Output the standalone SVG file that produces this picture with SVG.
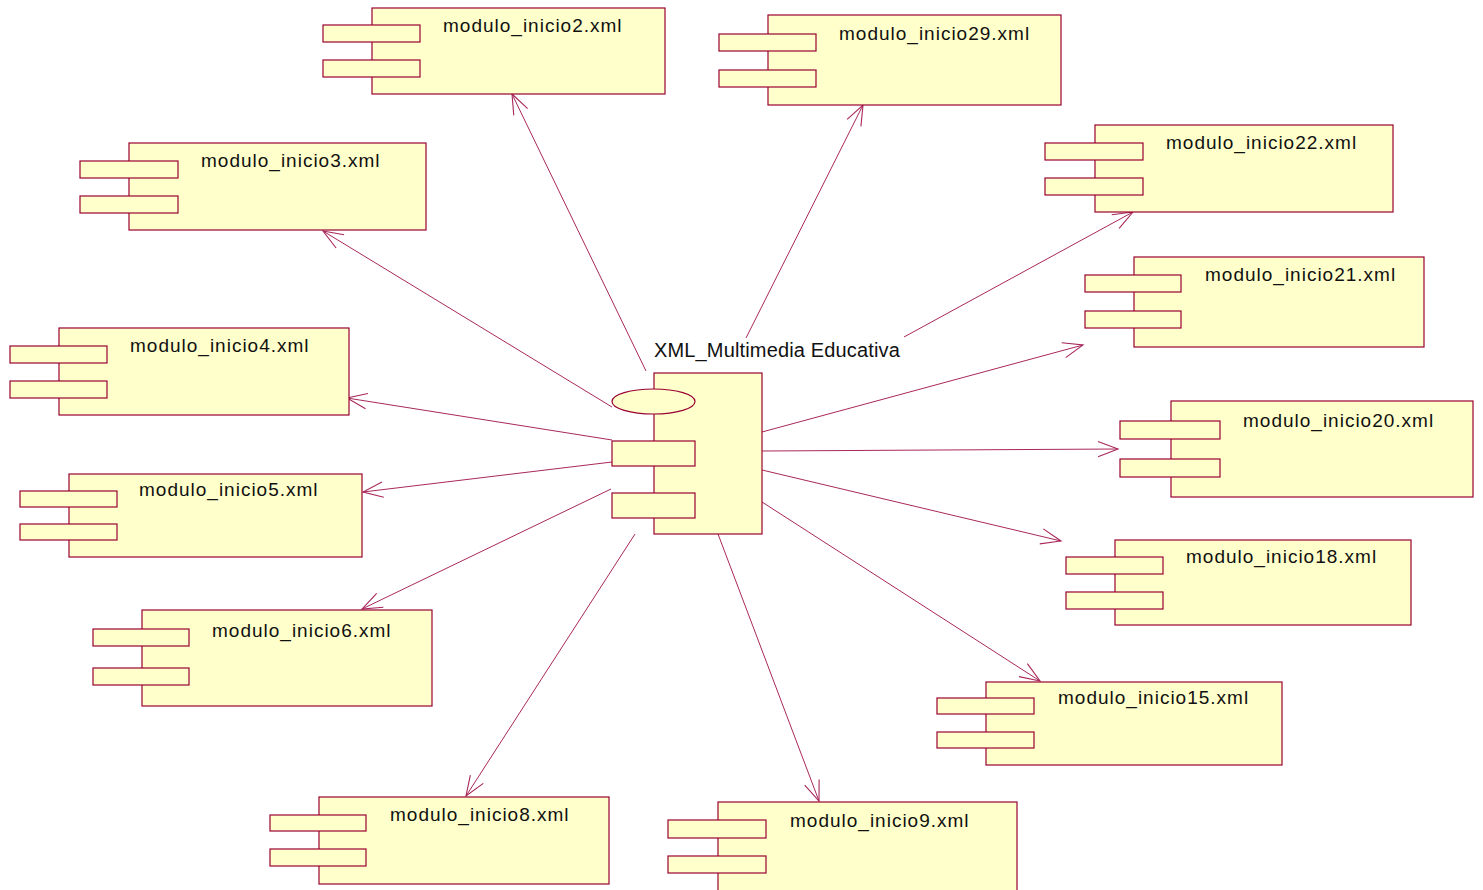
<svg xmlns="http://www.w3.org/2000/svg" width="1483" height="890" viewBox="0 0 1483 890">
  <style>
    .box { fill: #FFFFCB; stroke: #990033; stroke-width: 1.2; }
    .lbl { font-family: "Liberation Sans", Arial, sans-serif; font-size: 19px; letter-spacing: 1px; fill: #111111; }
    .title { font-family: "Liberation Sans", Arial, sans-serif; font-size: 20px; letter-spacing: 0.15px; fill: #111111; }
    .dep { fill: none; stroke: #A8285A; stroke-width: 1; marker-end: url(#open); }
  </style>
  <defs>
    <!-- open V arrowhead for dependencies -->
    <marker id="open" viewBox="-22 -9 24 18" markerWidth="24" markerHeight="18" refX="0" refY="0" orient="auto" markerUnits="userSpaceOnUse">
      <path d="M-20,-7.7 L0,0 L-20,7.7" fill="none" stroke="#A8285A" stroke-width="1.1"/>
    </marker>
  </defs>
  <rect width="1483" height="890" fill="#FFFFFF"/>

  <!-- dependencies from the central component -->
  <g id="connectors">
    <line class="dep" x1="646" y1="371" x2="512" y2="94"/>
    <line class="dep" x1="746" y1="338" x2="863" y2="105"/>
    <line class="dep" x1="612" y1="407" x2="323" y2="231"/>
    <line class="dep" x1="904" y1="337" x2="1133" y2="212"/>
    <line class="dep" x1="762" y1="432" x2="1083" y2="345"/>
    <line class="dep" x1="612" y1="440" x2="347" y2="398"/>
    <line class="dep" x1="762" y1="451" x2="1118" y2="449"/>
    <line class="dep" x1="612" y1="462" x2="363" y2="492"/>
    <line class="dep" x1="762" y1="470" x2="1061" y2="541"/>
    <line class="dep" x1="611" y1="489" x2="362" y2="609"/>
    <line class="dep" x1="762" y1="502" x2="1040" y2="681"/>
    <line class="dep" x1="635" y1="534" x2="466" y2="796"/>
    <line class="dep" x1="718" y1="534" x2="819" y2="801"/>
  </g>

  <!-- central component -->
  <g id="xml_multimedia_educativa">
    <rect class="box" x="654" y="373" width="108" height="161"/>
    <ellipse class="box" cx="653.5" cy="401.5" rx="41.5" ry="12.5"/>
    <rect class="box" x="612" y="441" width="83" height="25"/>
    <rect class="box" x="612" y="493" width="83" height="25"/>
    <text class="title" x="654" y="357">XML_Multimedia Educativa</text>
  </g>

  <g id="modulo_inicio2">
    <rect class="box" x="372" y="8" width="293" height="86"/>
    <rect class="box" x="323" y="25" width="97" height="17"/>
    <rect class="box" x="323" y="60" width="97" height="17"/>
    <text class="lbl" x="443" y="32">modulo_inicio2.xml</text>
  </g>

  <g id="modulo_inicio29">
    <rect class="box" x="768" y="15" width="293" height="90"/>
    <rect class="box" x="719" y="34" width="97" height="17"/>
    <rect class="box" x="719" y="70" width="97" height="17"/>
    <text class="lbl" x="839" y="40">modulo_inicio29.xml</text>
  </g>

  <g id="modulo_inicio3">
    <rect class="box" x="129" y="143" width="297" height="87"/>
    <rect class="box" x="80" y="161" width="98" height="17"/>
    <rect class="box" x="80" y="196" width="98" height="17"/>
    <text class="lbl" x="201" y="167">modulo_inicio3.xml</text>
  </g>

  <g id="modulo_inicio22">
    <rect class="box" x="1095" y="125" width="298" height="87"/>
    <rect class="box" x="1045" y="143" width="98" height="17"/>
    <rect class="box" x="1045" y="178" width="98" height="17"/>
    <text class="lbl" x="1166" y="149">modulo_inicio22.xml</text>
  </g>

  <g id="modulo_inicio21">
    <rect class="box" x="1134" y="257" width="290" height="90"/>
    <rect class="box" x="1085" y="275" width="96" height="17"/>
    <rect class="box" x="1085" y="311" width="96" height="17"/>
    <text class="lbl" x="1205" y="281">modulo_inicio21.xml</text>
  </g>

  <g id="modulo_inicio4">
    <rect class="box" x="59" y="328" width="290" height="87"/>
    <rect class="box" x="10" y="346" width="97" height="17"/>
    <rect class="box" x="10" y="381" width="97" height="17"/>
    <text class="lbl" x="130" y="352">modulo_inicio4.xml</text>
  </g>

  <g id="modulo_inicio20">
    <rect class="box" x="1171" y="401" width="302" height="96"/>
    <rect class="box" x="1120" y="421" width="100" height="18"/>
    <rect class="box" x="1120" y="459" width="100" height="18"/>
    <text class="lbl" x="1243" y="427">modulo_inicio20.xml</text>
  </g>

  <g id="modulo_inicio5">
    <rect class="box" x="69" y="474" width="293" height="83"/>
    <rect class="box" x="20" y="491" width="97" height="16"/>
    <rect class="box" x="20" y="524" width="97" height="16"/>
    <text class="lbl" x="139" y="496">modulo_inicio5.xml</text>
  </g>

  <g id="modulo_inicio18">
    <rect class="box" x="1115" y="540" width="296" height="85"/>
    <rect class="box" x="1066" y="557" width="97" height="17"/>
    <rect class="box" x="1066" y="592" width="97" height="17"/>
    <text class="lbl" x="1186" y="563">modulo_inicio18.xml</text>
  </g>

  <g id="modulo_inicio6">
    <rect class="box" x="142" y="610" width="290" height="96"/>
    <rect class="box" x="93" y="629" width="96" height="17"/>
    <rect class="box" x="93" y="668" width="96" height="17"/>
    <text class="lbl" x="212" y="637">modulo_inicio6.xml</text>
  </g>

  <g id="modulo_inicio15">
    <rect class="box" x="986" y="682" width="296" height="83"/>
    <rect class="box" x="937" y="698" width="97" height="16"/>
    <rect class="box" x="937" y="732" width="97" height="16"/>
    <text class="lbl" x="1058" y="704">modulo_inicio15.xml</text>
  </g>

  <g id="modulo_inicio8">
    <rect class="box" x="319" y="797" width="290" height="87"/>
    <rect class="box" x="270" y="815" width="96" height="16"/>
    <rect class="box" x="270" y="849" width="96" height="17"/>
    <text class="lbl" x="390" y="821">modulo_inicio8.xml</text>
  </g>

  <g id="modulo_inicio9">
    <rect class="box" x="718" y="802" width="299" height="98"/>
    <rect class="box" x="668" y="820" width="98" height="18"/>
    <rect class="box" x="668" y="856" width="98" height="17"/>
    <text class="lbl" x="790" y="827">modulo_inicio9.xml</text>
  </g>
</svg>
